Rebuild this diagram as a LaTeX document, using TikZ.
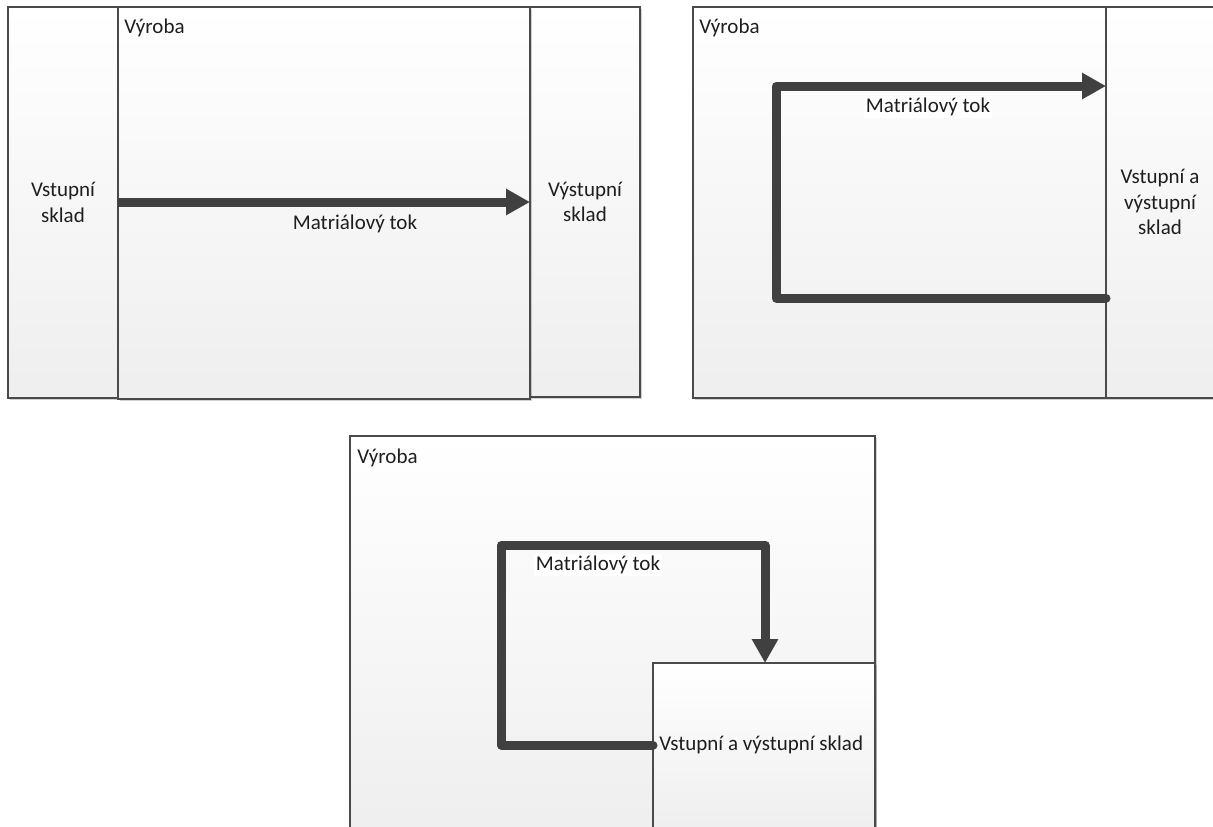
\documentclass[tikz,border=0pt]{standalone}
\usepackage{fontspec}
\setmainfont{Carlito}
\usetikzlibrary{arrows.meta,fit,shadows}

\definecolor{edge}{HTML}{4A4A4A}
\definecolor{flowc}{HTML}{404040}
\definecolor{ink}{HTML}{1E1E1E}

\tikzset{
  zone/.style={draw=edge, line width=0.7pt, top color=white, bottom color=gray!13,
    inner sep=0pt, outer sep=0pt,
    drop shadow={shadow xshift=0.8pt, shadow yshift=-0.9pt, fill=black, opacity=0.18}},
  flow/.style={draw=flowc, line width=4.5pt, line join=round, line cap=round},
  flowtip/.style={flow, -{Triangle[width=12.5pt,length=12pt]}},
  tag/.style={font=\fontsize{10.5}{12.7}\selectfont, text=ink, inner sep=1pt, align=center},
  title/.style={tag, anchor=west},
  flowtag/.style={tag, fill=white},
}

\begin{document}
\begin{tikzpicture}[x=0.5pt, y=-0.5pt]
  \useasboundingbox (0,0) rectangle (1213,826);

  % ---- Layout 1: input store | production | output store ----
  \node[zone, fit={(8,7) (118,398)}] (in1) {};
  \node[zone, fit={(530,7) (640,397)}] (out1) {};
  \node[zone, fit={(118,7) (530,399)}] (prod1) {};
  \node[title] (prod1lbl) at (122,28) {Výroba};
  \node[tag] (in1lbl) at (in1.center) {Vstupní\\sklad};
  \node[tag] (out1lbl) at (out1.center) {Výstupní\\sklad};
  \draw[flowtip, line cap=butt] (in1.east |- 0,202) -- (out1.west |- 0,202);
  \node[tag] (flow1lbl) at (355,224) {Matriálový tok};

  % ---- Layout 2: shared store on one side ----
  \node[zone, fit={(693,7) (1106,398)}] (prod2) {};
  \node[zone, fit={(1106,7) (1218,398)}] (store2) {};
  \node[title] (prod2lbl) at (697,28) {Výroba};
  \node[tag] (store2lbl) at (1160,202) {Vstupní a\\výstupní\\sklad};
  \coordinate (c2a) at (776,298);
  \coordinate (c2b) at (776,86);
  \draw[flowtip] (store2.west |- c2a) -- (c2a) -- (c2b) -- (store2.west |- c2b);
  \node[flowtag] (flow2lbl) at (928,107) {Matriálový tok};

  % ---- Layout 3: store inside production ----
  \node[zone, fit={(350,436) (875,832)}] (prod3) {};
  \node[zone, fit={(653,663) (875,832)}] (store3) {};
  \node[title] (prod3lbl) at (355,458) {Výroba};
  \coordinate (c3a) at (501,745);
  \coordinate (c3b) at (501,545);
  \coordinate (c3c) at (765,545);
  \draw[flowtip] (store3.west |- c3a) -- (c3a) -- (c3b) -- (c3c) -- (c3c |- store3.north);
  \node[flowtag] (flow3lbl) at (598,565) {Matriálový tok};
  \node[tag, anchor=west] (store3lbl) at (657,745) {Vstupní a výstupní sklad};
\end{tikzpicture}
\end{document}
